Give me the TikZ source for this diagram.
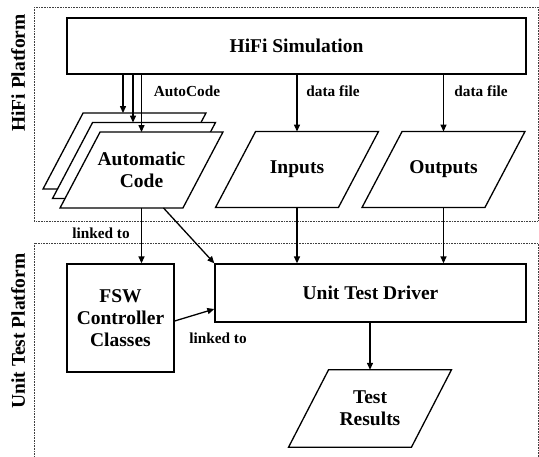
\documentclass[tikz,border=0pt]{standalone}
\usepackage{fontspec}
\setmainfont{Liberation Serif}
\usetikzlibrary{calc,arrows.meta}
\tikzset{
  big/.style={font=\fontsize{19.5}{22}\selectfont\bfseries},
  small/.style={font=\fontsize{15.3}{18}\selectfont\bfseries},
  boxnode/.style={draw, line width=1.3pt, inner sep=0pt, align=center, big},
  pg/.style={inner sep=0pt, minimum width=122.5pt, minimum height=75.5pt, align=center, big},
  pgline/.style={draw, line width=1.3pt, fill=white, line join=miter},
  arr/.style={line width=1.3pt, -{Triangle[length=7pt,width=6pt]}},
  platform/.style={draw=black!75, line width=0.8pt, dash pattern=on 0.7pt off 0.9pt},
}
\newcommand{\pgramdraw}[1]{%
  \draw[pgline] ($(#1.north west)+(20,0)$) -- ($(#1.north east)+(20,0)$) --
    ($(#1.south east)+(-20,0)$) -- ($(#1.south west)+(-20,0)$) -- cycle;}
\begin{document}
\begin{tikzpicture}[x=1pt,y=-1pt]
\useasboundingbox (0,0) rectangle (539,456);
% platforms
\draw[platform] (34,7) rectangle (538,221);
\draw[platform] (34,243) rectangle (538,470);
\node[big, rotate=90] (lhifi) at (18,73) {HiFi Platform};
\node[big, rotate=90] (lunit) at (18,331) {Unit Test Platform};
% HiFi simulation
\node[boxnode, minimum width=459pt, minimum height=56pt] (hifi) at (296.5,46) {HiFi Simulation};
% stacked parallelograms
\node[pg] (back) at (124.5,151) {};
\pgramdraw{back}
\node[pg] (mid) at (134,160.5) {};
\pgramdraw{mid}
\node[pg] (ac) at (141.5,170) {};
\pgramdraw{ac}
\node[pg] (act) at (141.5,170) {Automatic\\Code};
\node[pg] (inp) at (297,169.5) {};
\pgramdraw{inp}
\node[pg] (inpt) at (297,169.5) {Inputs};
\node[pg] (out) at (443.5,169.5) {};
\pgramdraw{out}
\node[pg] (outt) at (443.5,169.5) {Outputs};
% unit test part
\node[boxnode, minimum width=107pt, minimum height=108pt] (fsw) at (120.5,318) {FSW\\Controller\\Classes};
\node[boxnode, minimum width=311pt, minimum height=58pt] (utd) at (370.5,293) {Unit Test Driver};
\node[pg, minimum height=77pt] (tr) at (370,408.5) {};
\pgramdraw{tr}
\node[pg, minimum height=77pt] (trt) at (370,408.5) {Test\\Results};
% autocode arrows
\coordinate (ac1) at (123,0);
\coordinate (ac2) at (133,0);
\coordinate (ac3) at (141.5,0);
\draw[arr] (hifi.south -| ac1) -- (ac1 |- back.north);
\draw[arr] (hifi.south -| ac2) -- (ac2 |- mid.north);
\draw[arr] (hifi.south -| ac3) -- (ac.north);
\node[small] (lauto) at (187,91) {AutoCode};
% data file arrows
\draw[arr] (hifi.south -| inp.north) -- (inp.north);
\draw[arr] (hifi.south -| out.north) -- (out.north);
\node[small] (ld1) at (333,91) {data file};
\node[small] (ld2) at (481,91) {data file};
% to unit test
\draw[arr] (ac.south) -- (ac.south |- fsw.north);
\draw[arr] ($(ac.south)+(22,0)$) -- (utd.north west);
\draw[arr] (inp.south) -- (inp.south |- utd.north);
\draw[arr] (out.south) -- (out.south |- utd.north);
\draw[arr] ($(fsw.east)+(0,3)$) -- ($(utd.west)+(0,16)$);
\draw[arr] (utd.south -| tr.north) -- (tr.north);
\node[small] (ll1) at (101,233) {linked to};
\node[small] (ll2) at (218,338) {linked to};
\end{tikzpicture}
\end{document}
